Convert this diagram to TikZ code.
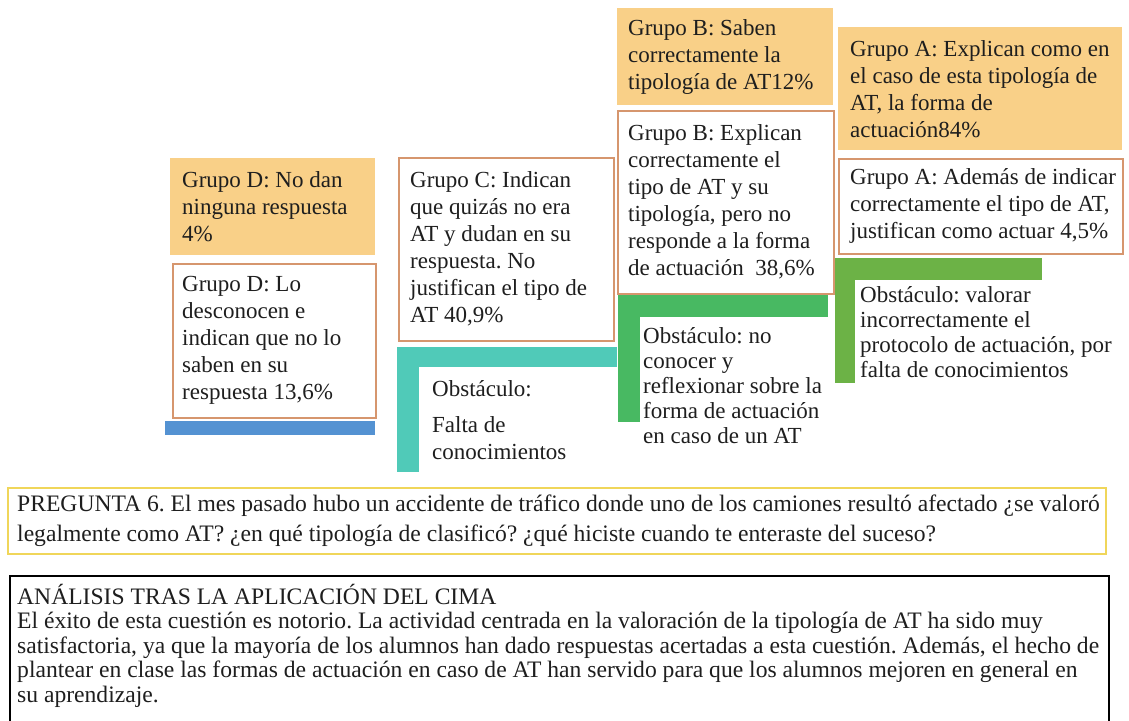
\documentclass[tikz,border=0pt]{standalone}
\usepackage{fontspec}
\setmainfont{Liberation Serif}
\usetikzlibrary{calc}
\definecolor{orangefill}{RGB}{249,208,136}
\definecolor{boxline}{RGB}{214,150,110}
\definecolor{barblue}{RGB}{84,146,210}
\definecolor{barteal}{RGB}{80,202,184}
\definecolor{bargreenB}{RGB}{72,185,98}
\definecolor{bargreenA}{RGB}{108,178,70}
\definecolor{qline}{RGB}{240,214,90}
\definecolor{ink}{RGB}{30,30,30}
\frenchspacing
\begin{document}
\begin{tikzpicture}[x=1pt,y=-1pt,
  obox/.style={fill=orangefill, draw=none, inner sep=0, anchor=north west},
  wbox/.style={fill=white, draw=boxline, line width=1.5pt, inner sep=0, anchor=north west},
  txt/.style={font=\fontsize{23}{27}\selectfont, align=left, inner sep=0, text=ink},
  otxt/.style={font=\fontsize{23}{25}\selectfont, align=left, inner sep=0, text=ink, anchor=north west},
  bar/.style={inner sep=0, draw=none, anchor=north west}]
\useasboundingbox[fill=white] (0,0) rectangle (1129,720);

% Group D
\node[obox, minimum width=205pt, minimum height=97pt] (dO) at (170,158) {};
\node[txt, anchor=west] (dOt) at ([xshift=12pt]dO.west) {Grupo D: No dan\\ninguna respuesta\\4\%};
\node[wbox, minimum width=203pt, minimum height=154pt] (dW) at (172,263) {};
\node[txt, anchor=west] (dWt) at ([xshift=10pt]dW.west) {Grupo D: Lo\\desconocen e\\indican que no lo\\saben en su\\respuesta 13,6\%};
\node[bar, fill=barblue, minimum width=210pt, minimum height=14pt] (dbar) at (165,421) {};

% Group C
\node[wbox, minimum width=215pt, minimum height=183pt] (cW) at (398,157) {};
\node[txt, anchor=west] (cWt) at ([xshift=12pt]cW.west) {Grupo C: Indican\\que quizás no era\\AT y dudan en su\\respuesta. No\\justifican el tipo de\\AT 40,9\%};
\node[bar, fill=barteal, minimum width=220pt, minimum height=20pt] (ctop) at (397,347) {};
\node[bar, fill=barteal, minimum width=22pt, minimum height=125pt] (cvert) at (397,347) {};
\node[txt, anchor=north west] (cobs1) at (432,380) {Obstáculo:};
\node[txt, anchor=north west] (cobs2) at (432,416) {Falta de\\conocimientos};

% Group B
\node[obox, minimum width=216pt, minimum height=97pt] (bO) at (617,8) {};
\node[txt, anchor=west] (bOt) at ([xshift=11pt]bO.west) {Grupo B: Saben\\correctamente la\\tipología de AT12\%};
\node[wbox, minimum width=216pt, minimum height=183pt] (bW) at (617,110) {};
\node[txt, anchor=west] (bWt) at ([xshift=11pt]bW.west) {Grupo B: Explican\\correctamente el\\tipo de AT y su\\tipología, pero no\\responde a la forma\\de actuación~~38,6\%};
\node[bar, fill=bargreenB, minimum width=210pt, minimum height=22pt] (btop) at (618,295) {};
\node[bar, fill=bargreenB, minimum width=22pt, minimum height=127pt] (bvert) at (618,295) {};
\node[otxt] (bobs) at (643,327) {Obstáculo: no\\conocer y\\reflexionar sobre la\\forma de actuación\\en caso de un AT};

% Group A
\node[obox, minimum width=284pt, minimum height=123pt] (aO) at (838,27) {};
\node[txt, anchor=west] (aOt) at ([xshift=12pt]aO.west) {Grupo A: Explican como en\\el caso de esta tipología de\\AT, la forma de\\actuación84\%};
\node[wbox, minimum width=284pt, minimum height=95pt] (aW) at (838,158) {};
\node[txt, anchor=west] (aWt) at ([xshift=12pt]aW.west) {Grupo A: Además de indicar\\correctamente el tipo de AT,\\justifican como actuar 4,5\%};
\node[bar, fill=bargreenA, minimum width=207pt, minimum height=22pt] (atop) at (835,258) {};
\node[bar, fill=bargreenA, minimum width=20pt, minimum height=125pt] (avert) at (835,258) {};
\node[otxt] (aobs) at (860,286) {Obstáculo: valorar\\incorrectamente el\\protocolo de actuación, por\\falta de conocimientos};

% Question
\node[fill=white, draw=qline, line width=1.5pt, inner sep=0, anchor=north west, minimum width=1098pt, minimum height=66pt] (q) at (7,487) {};
\node[font=\fontsize{23.6}{30}\selectfont, align=left, inner sep=0, text=ink, anchor=west] (qt) at ([xshift=10pt]q.west) {PREGUNTA 6. El mes pasado hubo un accidente de tráfico donde uno de los camiones resultó afectado ¿se valoró\\legalmente como AT? ¿en qué tipología de clasificó? ¿qué hiciste cuando te enteraste del suceso?};

% Analysis
\node[fill=white, draw=black, line width=2pt, inner sep=0, anchor=north west, minimum width=1099pt, minimum height=160pt] (an) at (9,575) {};
\node[font=\fontsize{23.6}{24.5}\selectfont, align=left, inner sep=0, text=ink, anchor=north west] (ant) at (17,584) {ANÁLISIS TRAS LA APLICACIÓN DEL CIMA\\El éxito de esta cuestión es notorio. La actividad centrada en la valoración de la tipología de AT ha sido muy\\satisfactoria, ya que la mayoría de los alumnos han dado respuestas acertadas a esta cuestión. Además, el hecho de\\plantear en clase las formas de actuación en caso de AT han servido para que los alumnos mejoren en general en\\su aprendizaje.};
\end{tikzpicture}
\end{document}
